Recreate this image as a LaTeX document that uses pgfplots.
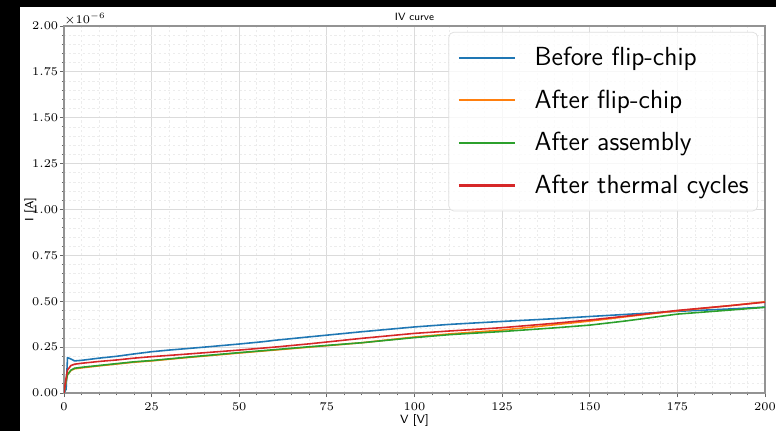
\RequirePackage{fix-cm}
\documentclass[border=0pt]{standalone}
\usepackage{fontspec}
\usepackage{pgfplots}
\pgfplotsset{compat=1.18}
\definecolor{tabblue}{RGB}{31,119,180}
\definecolor{taborange}{RGB}{255,127,14}
\definecolor{tabgreen}{RGB}{44,160,44}
\definecolor{tabred}{RGB}{214,39,40}

\begin{document}
\begin{tikzpicture}
  % black margins of the screenshot
  \fill[black] (0,0) rectangle (15.52,8.62);
  \fill[white] (0.4,0) rectangle (15.52,8.48);
  \begin{axis}[
    name=ax,
    at={(1.28cm,0.76cm)}, anchor=south west,
    scale only axis, width=14.02cm, height=7.34cm,
    xmin=0, xmax=200, ymin=0, ymax=2,
    xtick={0,25,...,200},
    ytick={0,0.25,0.5,0.75,1,1.25,1.5,1.75,2},
    minor x tick num=4, minor y tick num=4,
    yticklabel style={/pgf/number format/fixed, /pgf/number format/fixed zerofill,
      /pgf/number format/precision=2, inner xsep=0pt, xshift=-0.03cm},
    tick label style={font=\fontsize{6.7}{7}\selectfont},
    tick align=outside, tick pos=left,
    major tick length=0.08cm, minor tick length=0.045cm,
    tick style={gray!80!black, line width=0.5pt},
    axis line style={gray!85, line width=0.7pt},
    grid=both,
    major grid style={gray!28, line width=0.6pt},
    minor grid style={gray!15, line width=0.4pt, dash pattern=on 1.2pt off 1.5pt},
    xlabel={V [V]}, ylabel={I [A]},
    label style={font=\sffamily\fontsize{6.8}{8}\selectfont},
    xlabel style={at={(axis description cs:0.5,0)}, anchor=center, yshift=-0.56cm},
    ylabel style={at={(axis description cs:0,0.5)}, anchor=center, yshift=0.67cm},
    legend style={at={(rel axis cs:0.99,0.984)}, anchor=north east,
      draw=gray!25, rounded corners=0.1cm, fill=white, fill opacity=0.8, text opacity=1,
      font=\sffamily\fontsize{14.9}{17}\selectfont,
      inner xsep=0.18cm, inner ysep=0.3cm, row sep=0.43cm,
      nodes={inner sep=0pt},
      /tikz/every odd column/.append style={column sep=0.37cm}},
    legend cell align=left,
    legend image code/.code={\draw[#1, line width=1.3pt] (0cm,0cm) -- (1.12cm,0cm);},
    every axis plot/.append style={line width=0.9pt, line join=round},
  ]
    \addplot[tabblue] coordinates {
      (0,0) (0.6,0.02) (1.0,0.193) (2,0.185) (3,0.175) (5,0.178) (10,0.19) (15,0.2)
      (20,0.213) (25,0.225) (30,0.234) (40,0.25) (50,0.267) (57,0.28) (60,0.287)
      (70,0.306) (85,0.334) (100,0.36) (110,0.374) (125,0.39) (140,0.405) (150,0.417)
      (160,0.428) (175,0.445) (190,0.458) (200,0.468)};
    \addlegendentry{Before flip-chip}
    \addplot[taborange] coordinates {
      (0,0) (0.5,0.055) (1,0.10) (2,0.123) (3,0.132) (5,0.137) (10,0.148) (15,0.158)
      (20,0.168) (25,0.175) (35,0.193) (50,0.218) (60,0.234) (70,0.25) (85,0.274)
      (100,0.305) (110,0.322) (125,0.343) (140,0.372) (150,0.392) (160,0.415)
      (175,0.448) (190,0.476) (200,0.497)};
    \addlegendentry{After flip-chip}
    \addplot[tabgreen] coordinates {
      (0,0) (0.5,0.06) (1,0.10) (2,0.125) (3,0.135) (5,0.14) (10,0.15) (15,0.16)
      (20,0.17) (25,0.177) (35,0.195) (50,0.22) (60,0.236) (70,0.252) (85,0.274)
      (100,0.302) (110,0.318) (125,0.335) (140,0.355) (150,0.37) (160,0.392)
      (175,0.43) (190,0.452) (200,0.467)};
    \addlegendentry{After assembly}
    \addplot[tabred] coordinates {
      (0,0) (0.5,0.07) (1,0.125) (2,0.15) (3,0.157) (5,0.162) (10,0.172) (15,0.18)
      (20,0.19) (25,0.198) (35,0.212) (50,0.234) (60,0.25) (70,0.268) (85,0.298)
      (100,0.325) (110,0.338) (125,0.356) (140,0.38) (150,0.398) (160,0.418)
      (175,0.45) (190,0.476) (200,0.495)};
    \addlegendentry{After thermal cycles}
  \end{axis}
  % title and axis multiplier
  \node[font=\sffamily\fontsize{6}{7}\selectfont, anchor=center, yshift=0.18cm] at (ax.north) {IV curve};
  \node[anchor=base west, inner sep=0pt, yshift=0.05cm, font=\fontsize{6.7}{7}\selectfont]
    at (ax.north west) {$\times10^{-6}$};
  \pgfresetboundingbox
  \path[use as bounding box] (0,0) rectangle (15.52,8.62);
\end{tikzpicture}
\end{document}
